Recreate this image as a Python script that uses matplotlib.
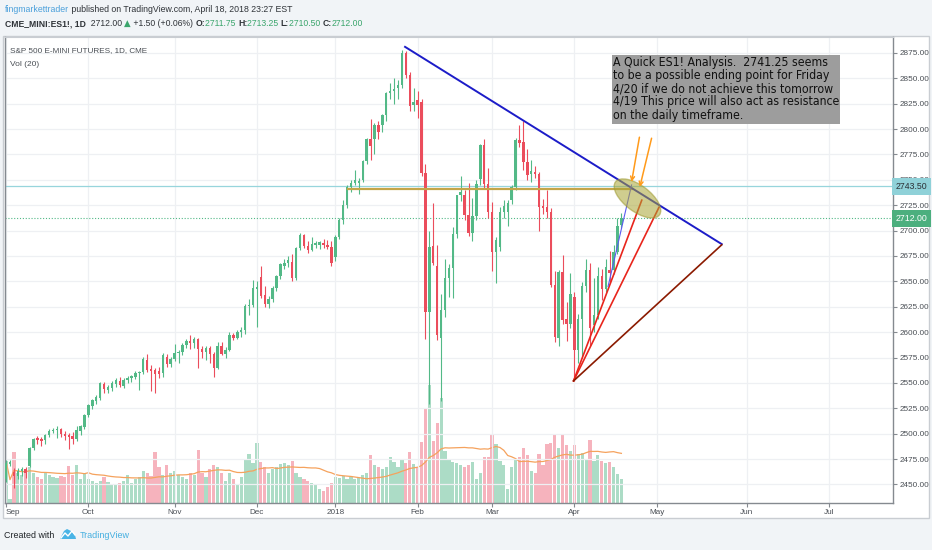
import matplotlib
matplotlib.use("Agg")
import matplotlib.pyplot as plt
import matplotlib.transforms as mtransforms
from matplotlib.patches import Ellipse, Rectangle, Polygon
from matplotlib import font_manager
import numpy as np
import pandas as pd

W, H = 932, 550

# ---------------------------------------------------------------------------
# Data (ES1! daily, Sep 2017 - Apr 18 2018)
# ---------------------------------------------------------------------------
holidays = ["2017-11-23", "2017-12-25", "2018-01-01", "2018-01-15",
            "2018-02-19", "2018-03-30"]

opens = [
    # Sep
    2455, 2470, 2462, 2458, 2463, 2465, 2468, 2486, 2496, 2495, 2494,
    2499, 2503, 2504, 2505, 2500, 2499, 2498, 2495, 2503, 2507,
    # Oct
    2518, 2527, 2532, 2535, 2549, 2543, 2545, 2549, 2552, 2547, 2553,
    2555, 2556, 2560, 2561, 2573, 2564, 2563, 2562, 2560, 2576, 2569,
    # Nov
    2574, 2579, 2580, 2587, 2591, 2589, 2593, 2583, 2580, 2584, 2578,
    2565, 2586, 2578, 2582, 2597, 2594, 2600, 2602, 2626, 2627,
    # Dec
    2642, 2654, 2637, 2628, 2633, 2643, 2655, 2665, 2668, 2669, 2653,
    2683, 2696, 2685, 2681, 2686, 2686, 2688, 2686, 2684,
    # Jan
    2674, 2694, 2710, 2725, 2743, 2747, 2747, 2750, 2769, 2790, 2790,
    2804, 2804, 2814, 2836, 2838, 2840, 2843, 2875, 2853, 2824,
    # Feb
    2829, 2827, 2757, 2620, 2685, 2665, 2594, 2622, 2653, 2663, 2697,
    2735, 2735, 2715, 2698, 2714, 2751, 2784, 2746,
    # Mar
    2718, 2679, 2684, 2718, 2718, 2730, 2743, 2789, 2787, 2768, 2756,
    2758, 2756, 2724, 2723, 2718, 2646, 2594, 2659, 2613, 2608,
    # Apr
    2635, 2582, 2613, 2645, 2661, 2607, 2617, 2655, 2642, 2661, 2661,
    2679, 2706,
]
highs = [
    2474, 2474, 2466, 2466, 2467, 2467, 2487, 2496, 2498, 2497, 2500,
    2505, 2506, 2508, 2506, 2503, 2501, 2502, 2508, 2509, 2519,
    2529, 2534, 2538, 2551, 2551, 2548, 2552, 2555, 2556, 2555, 2557,
    2558, 2562, 2562, 2576, 2578, 2568, 2565, 2566, 2579, 2578, 2576,
    2588, 2582, 2589, 2593, 2597, 2595, 2594, 2586, 2586, 2586, 2580,
    2590, 2590, 2585, 2600, 2599, 2602, 2605, 2628, 2633, 2651,
    2650, 2665, 2645, 2636, 2645, 2656, 2668, 2672, 2675, 2677, 2684,
    2698, 2697, 2690, 2694, 2690, 2690, 2692, 2691, 2690,
    2696, 2712, 2730, 2745, 2750, 2760, 2752, 2770, 2791, 2810, 2806,
    2808, 2815, 2837, 2845, 2850, 2848, 2878, 2877, 2856, 2840,
    2838, 2830, 2766, 2700, 2727, 2686, 2638, 2672, 2667, 2704, 2735,
    2754, 2740, 2747, 2732, 2750, 2785, 2790, 2762,
    2728, 2694, 2723, 2730, 2730, 2745, 2791, 2804, 2808, 2780, 2770,
    2764, 2758, 2731, 2740, 2722, 2660, 2661, 2676, 2630, 2658,
    2640, 2618, 2649, 2672, 2668, 2653, 2664, 2662, 2672, 2680, 2686,
    2712, 2717,
]
lows = [
    2452, 2468, 2446, 2455, 2458, 2456, 2467, 2484, 2490, 2488, 2490,
    2497, 2501, 2496, 2497, 2494, 2485, 2490, 2493, 2499, 2505,
    2516, 2524, 2529, 2533, 2540, 2540, 2542, 2546, 2546, 2545, 2550,
    2551, 2554, 2543, 2559, 2561, 2542, 2540, 2555, 2556, 2566, 2566,
    2572, 2570, 2577, 2584, 2583, 2584, 2565, 2575, 2573, 2570, 2556,
    2564, 2577, 2575, 2581, 2592, 2593, 2595, 2598, 2617, 2625,
    2605, 2634, 2625, 2624, 2630, 2641, 2652, 2662, 2664, 2650, 2651,
    2681, 2683, 2678, 2680, 2683, 2682, 2683, 2682, 2665,
    2670, 2692, 2707, 2722, 2738, 2745, 2736, 2748, 2766, 2770, 2775,
    2790, 2797, 2808, 2830, 2825, 2830, 2840, 2850, 2818, 2818,
    2811, 2754, 2593, 2529, 2666, 2592, 2532, 2615, 2635, 2634, 2693,
    2729, 2710, 2695, 2690, 2710, 2745, 2742, 2712,
    2660, 2648, 2680, 2712, 2705, 2726, 2740, 2782, 2760, 2750, 2748,
    2752, 2700, 2716, 2712, 2644, 2590, 2586, 2608, 2591, 2604,
    2552, 2570, 2575, 2640, 2586, 2600, 2613, 2632, 2640, 2648, 2657,
    2677, 2703,
]
closes = [
    2471, 2472, 2458, 2463, 2465, 2461, 2486, 2495, 2494, 2493, 2499,
    2503, 2504, 2505, 2500, 2498, 2497, 2495, 2504, 2508, 2518,
    2528, 2533, 2536, 2550, 2544, 2546, 2550, 2553, 2548, 2553, 2555,
    2557, 2560, 2561, 2574, 2563, 2562, 2559, 2559, 2577, 2569, 2574,
    2579, 2580, 2587, 2591, 2589, 2593, 2583, 2580, 2584, 2578, 2565,
    2586, 2578, 2582, 2597, 2594, 2600, 2602, 2626, 2627, 2643,
    2644, 2636, 2628, 2633, 2643, 2655, 2667, 2668, 2671, 2653, 2683,
    2696, 2685, 2681, 2687, 2688, 2689, 2686, 2684, 2668,
    2694, 2710, 2725, 2743, 2747, 2750, 2749, 2769, 2790, 2783, 2804,
    2797, 2814, 2836, 2838, 2839, 2843, 2875, 2853, 2823, 2827,
    2824, 2757, 2620, 2684, 2668, 2597, 2622, 2653, 2663, 2697, 2735,
    2738, 2715, 2698, 2714, 2746, 2784, 2746, 2718,
    2679, 2691, 2718, 2724, 2727, 2743, 2789, 2786, 2768, 2755, 2759,
    2756, 2723, 2722, 2718, 2646, 2595, 2659, 2612, 2608, 2638,
    2582, 2613, 2645, 2661, 2604, 2617, 2655, 2642, 2664, 2658, 2679,
    2705, 2712,
]
volume_k = [
    1680, 160, 2040, 1200, 1120, 1280, 1440, 1200, 1040, 960, 1200,
    1120, 1040, 1000, 1080, 1040, 1480, 1120, 1520, 960, 1200,
    960, 880, 800, 880, 1040, 840, 760, 720, 800, 880, 1120,
    800, 960, 1040, 1280, 1200, 1080, 2040, 1440, 1120, 1520, 1200,
    1280, 1120, 1040, 960, 1200, 1120, 2120, 1200, 1040, 1360, 1520,
    1440, 1200, 880, 1200, 960, 720, 1040, 1760, 1960, 1600,
    2400, 1640, 1440, 1200, 1360, 1440, 1560, 1600, 1520, 1680, 1200,
    1040, 960, 880, 800, 720, 560, 480, 640, 800,
    1040, 1000, 1080, 960, 1040, 960, 1000, 1120, 1200, 1920, 1520,
    1440, 1360, 1440, 1840, 1640, 1440, 1760, 1600, 2040, 1560,
    1440, 2440, 3800, 4720, 2480, 3200, 4200, 2080, 1760, 1640, 1600,
    1520, 1440, 1520, 1640, 960, 1200, 1840, 1840,
    2720, 2360, 1680, 1520, 560, 1440, 1760, 1840, 2200, 1920, 1280,
    1200, 1960, 1520, 2360, 2400, 2760, 2200, 2720, 2320, 2080,
    2320, 1960, 2000, 1760, 2520, 1680, 1920, 1680, 1600, 1640, 1440,
    1160, 960,
]

price_ticks = list(range(2450, 2876, 25))
resistance_level = 2741.25
marked_prices = [2743.50, 2712.00]

# drawing anchors as (bar index, price)
main_trend = [(101.8, 2881.0), (182.6, 2686.7)]
resistance_span = [87.3, 159.6]
fan_origin = (144.8, 2552.0)
fan_ends = [(162.2, 2730.0), (166.6, 2723.0), (182.6, 2686.0)]
fan_colors = ["#e8251c", "#e8251c", "#8b1a00"]
thin_blue = [(153.6, 2645.0), (159.6, 2745.0)]
arrow_tails = [(161.6, 2792.0), (164.7, 2791.0)]
arrow_heads = [(159.6, 2748.0), (161.7, 2743.0)]
ellipse_center = (161.1, 2731.7)

note_lines = [
    "A Quick ES1! Analysis.  2741.25 seems",
    "to be a possible ending point for Friday",
    "4/20 if we do not achieve this tomorrow",
    "4/19 This price will also act as resistance",
    "on the daily timeframe.",
]

# ---------------------------------------------------------------------------
# Calendar
# ---------------------------------------------------------------------------
hist = pd.bdate_range("2017-09-01", "2018-04-18").drop(pd.to_datetime(holidays))
future = pd.bdate_range("2018-04-19", "2018-07-31")
dates = hist.append(future)
n = len(closes)
idx = pd.Series(np.arange(len(dates)), index=dates)
firsts = idx.groupby([dates.year, dates.month]).first()
month_pos = list(firsts.values)
month_lbl = ["2018" if m == 1 else pd.Timestamp(y, m, 1).strftime("%b")
             for (y, m) in firsts.index]

names = {f.name for f in font_manager.fontManager.ttflist}
UI = "Liberation Sans Narrow" if "Liberation Sans Narrow" in names else "Liberation Sans"
plt.rcParams["font.family"] = [UI, "DejaVu Sans"]

UP, DOWN = "#53b987", "#eb4d5c"
UP_V, DOWN_V = "#acdcc6", "#f6b3bd"
GRID = "#eef0f3"
SPINE = "#858a90"
AXIS_FS = 5.9

fig = plt.figure(figsize=(W / 100, H / 100), dpi=100, facecolor="#f1f4f7")

# white chart panel
fig.patches.append(Rectangle((3 / W, 1 - 518 / H), 926 / W, 482 / H,
                             transform=fig.transFigure, fc="white",
                             ec="#c9cdd2", lw=1, zorder=0))

AX_L, AX_R, AX_T, AX_B = 4.5, 893, 36.7, 502.7
rect = [AX_L / W, 1 - AX_B / H, (AX_R - AX_L) / W, (AX_B - AX_T) / H]
XLIM = (-0.4, 226.3)
YLIM = (2432.0, 2891.0)

# volume pane (behind)
ax_v = fig.add_axes(rect, zorder=1)
ax_v.set_xlim(*XLIM)
ax_v.set_ylim(0, 18640)
ax_v.axis("off")

o = np.array(opens, float)
hgh = np.array(highs, float)
lw_ = np.array(lows, float)
c = np.array(closes, float)
x = np.arange(n)
up = c >= o

ax_v.bar(x, volume_k, width=0.82, color=np.where(up, UP_V, DOWN_V), linewidth=0)
vol_ma = pd.Series(volume_k).rolling(20, min_periods=1).mean()
ax_v.plot(x, vol_ma, color="#f5a25d", lw=0.9)

# price pane
ax = fig.add_axes(rect, zorder=2)
ax.patch.set_alpha(0)
ax.set_xlim(*XLIM)
ax.set_ylim(*YLIM)

ax.set_yticks(price_ticks)
ax.set_yticklabels([f"{p:.2f}" for p in price_ticks])
ax.set_xticks(month_pos)
ax.set_xticklabels(month_lbl)
ax.get_xticklabels()[0].set_horizontalalignment("left")
ax.grid(True, color=GRID, lw=0.9, zorder=0)
ax.set_axisbelow(True)
ax.yaxis.tick_right()
ax.tick_params(axis="y", length=3, width=0.8, color=SPINE, labelsize=AXIS_FS,
               labelcolor="#4a4f55", pad=1.5)
ax.tick_params(axis="x", length=3, width=0.8, color=SPINE, labelsize=AXIS_FS,
               labelcolor="#4a4f55", pad=1.8)
for s in ("left", "bottom", "right"):
    ax.spines[s].set_color(SPINE)
    ax.spines[s].set_linewidth(1)
ax.spines["top"].set_color("#c9cdd2")

colors = np.where(up, UP, DOWN)
ax.vlines(x, lw_, hgh, colors=colors, lw=0.8, zorder=3)
ax.bar(x, np.maximum(np.abs(c - o), 0.7), bottom=np.minimum(o, c), width=0.62,
       color=colors, linewidth=0, zorder=4)

# price lines
ax.axhline(marked_prices[0], color="#97d5dc", lw=0.9, zorder=2)
ax.axhline(marked_prices[1], color="#53b987", lw=0.8, ls=(0, (1, 1.6)), zorder=2)
yx = mtransforms.blended_transform_factory(ax.transAxes, ax.transData)
ax.text(1.003, marked_prices[0], f"{marked_prices[0]:.2f}", transform=yx,
        fontsize=6.3, color="#2c3035", va="center", ha="left", zorder=10,
        bbox=dict(boxstyle="square,pad=0.45", fc="#8fd1d8", ec="none"), clip_on=False)
ax.text(1.003, marked_prices[1], f"{marked_prices[1]:.2f}", transform=yx,
        fontsize=6.3, color="white", va="center", ha="left", zorder=10,
        bbox=dict(boxstyle="square,pad=0.45", fc="#4caf7e", ec="none"), clip_on=False)

# user drawings
ax.plot(resistance_span, [resistance_level] * 2, color="#c4a548", lw=1.6, zorder=5)
ax.plot(*zip(*main_trend), color="#1c1cc8", lw=1.4, zorder=6)
for end, col in zip(fan_ends, fan_colors):
    ax.plot([fan_origin[0], end[0]], [fan_origin[1], end[1]], color=col, lw=1.2, zorder=6)
ax.plot(*zip(*thin_blue), color="#5b5bf0", lw=0.8, zorder=6)

ell = Ellipse((0, 0), 0.55, 0.26, angle=-37, fc="#a9a434", ec="#9e9a30",
              alpha=0.55, lw=1,
              transform=fig.dpi_scale_trans + mtransforms.ScaledTranslation(
                  ellipse_center[0], ellipse_center[1], ax.transData), zorder=7)
ax.add_patch(ell)
for tail, head in zip(arrow_tails, arrow_heads):
    ax.annotate("", xy=head, xytext=tail, zorder=8,
                arrowprops=dict(arrowstyle="->", color="#ff9a1a", lw=1.1,
                                mutation_scale=7, shrinkA=0, shrinkB=0))

# note box
fig.patches.append(Rectangle((611.7 / W, 1 - 123.5 / H), 228.3 / W, 68.5 / H,
                             transform=fig.transFigure, fc="#9d9d9d", ec="none",
                             zorder=5))
for i, line in enumerate(note_lines):
    fig.text(613 / W, 1 - (62 + i * 13.3) / H, line, fontsize=8.8,
             family="DejaVu Sans", fontstretch="condensed", color="#111111",
             va="center", ha="left", zorder=6)

# ---------------------------------------------------------------------------
# Header / legend / footer text
# ---------------------------------------------------------------------------
renderer = fig.canvas.get_renderer()


def put_runs(x_px, y_px, runs, size):
    for text, color, weight, fam in runs:
        t = fig.text(x_px / W, 1 - y_px / H, text, color=color, fontweight=weight,
                     fontsize=size, va="center", ha="left",
                     family=fam or [UI, "DejaVu Sans"])
        x_px += t.get_window_extent(renderer).width


DARK = "#2f3338"
GREEN_T = "#3aa56c"
put_runs(5, 9.5, [("fingmarkettrader", "#4ba0db", "normal", None),
                  (" published on TradingView.com, April 18, 2018 23:27 EST", DARK, "normal", None)], 6.3)
put_runs(5, 23.5, [("CME_MINI:ES1!, 1D", DARK, "bold", None),
                   ("  2712.00 ", DARK, "normal", None),
                   ("▲", GREEN_T, "normal", "DejaVu Sans"),
                   (" +1.50 (+0.06%) ", DARK, "normal", None),
                   ("O:", DARK, "bold", None), ("2711.75 ", GREEN_T, "normal", None),
                   ("H:", DARK, "bold", None), ("2713.25 ", GREEN_T, "normal", None),
                   ("L:", DARK, "bold", None), ("2710.50 ", GREEN_T, "normal", None),
                   ("C:", DARK, "bold", None), ("2712.00", GREEN_T, "normal", None)], 6.2)

fig.text(10 / W, 1 - 50.5 / H, "S&P 500 E-MINI FUTURES, 1D, CME", fontsize=5.9,
         color="#4a4f55", va="center", ha="left", zorder=10)
fig.text(10 / W, 1 - 64 / H, "Vol (20)", fontsize=6.0, color="#4a4f55",
         va="center", ha="left", zorder=10)

fig.text(4 / W, 1 - 535 / H, "Created with", fontsize=6.4, color="#1f2327",
         va="center", ha="left")
logo = Polygon([(60, 539), (64, 531), (67, 529), (71, 531), (75, 535), (76, 539)],
               closed=True, fc="#49b4e6", ec="none")
logo.set_transform(mtransforms.Affine2D().scale(1, -1).translate(0, H))
fig.patches.append(logo)
fig.lines.append(plt.Line2D([61, 65, 68, 72, 75], [H - 538, H - 533, H - 536, H - 531, H - 535],
                            color="white", lw=1.0, transform=mtransforms.IdentityTransform()))
fig.text(80 / W, 1 - 535 / H, "TradingView", fontsize=6.5, color="#45afe0",
         va="center", ha="left")

fig.savefig("out.png", dpi=100, facecolor=fig.get_facecolor())
